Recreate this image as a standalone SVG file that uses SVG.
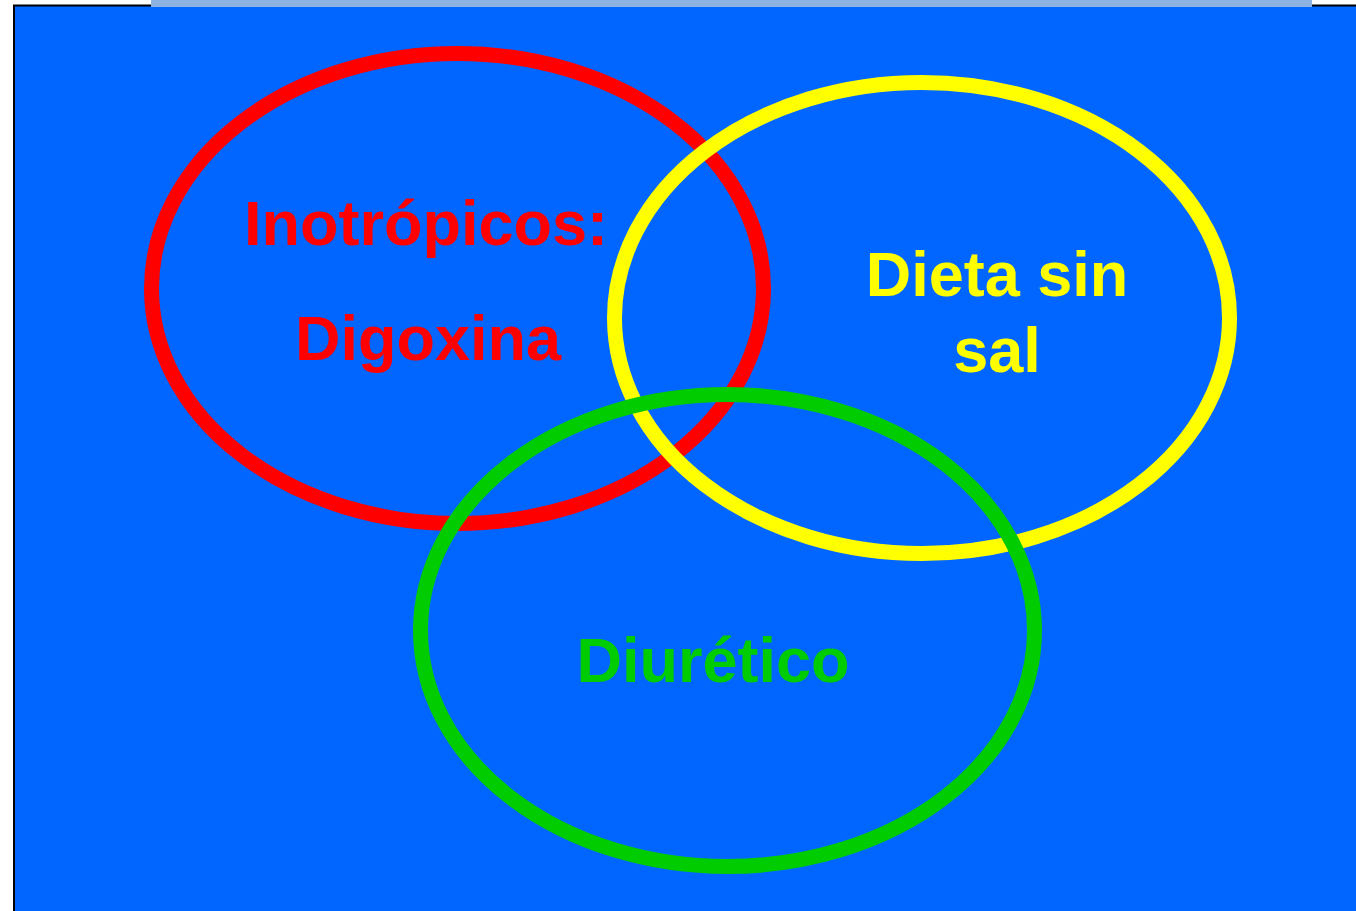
<svg xmlns="http://www.w3.org/2000/svg" width="1356" height="911" viewBox="0 0 1356 911">
<style>
.ring{fill:none;stroke-width:15}
.lbl{font-family:"Liberation Sans",Arial,sans-serif;font-weight:bold;font-size:63px;text-anchor:middle}
</style>
<rect x="0" y="0" width="1356" height="911" fill="#ffffff"/>
<rect x="14" y="5.5" width="1350" height="910" fill="#0066FF" stroke="#000000" stroke-width="2"/>
<rect x="151" y="0" width="1161" height="7" fill="#8DB3E2"/>
<g id="node-inotropicos">
<ellipse class="ring" cx="457.5" cy="288.5" rx="306" ry="235" stroke="#FF0000"/>
<text class="lbl" x="426" y="245" fill="#FF0000">Inotrópicos:</text>
<text class="lbl" x="428" y="360" fill="#FF0000">Digoxina</text>
</g>
<g id="node-dieta">
<ellipse class="ring" cx="922" cy="318" rx="307.5" ry="235.5" stroke="#FFFF00"/>
<text class="lbl" x="997" y="296" fill="#FFFF00">Dieta sin</text>
<text class="lbl" x="997" y="372" fill="#FFFF00">sal</text>
</g>
<g id="node-diuretico">
<ellipse class="ring" cx="727.5" cy="630.5" rx="307" ry="236" stroke="#00CC00"/>
<text class="lbl" x="713" y="682" fill="#00CC00">Diurético</text>
</g>
<g id="connectors"></g>
</svg>
